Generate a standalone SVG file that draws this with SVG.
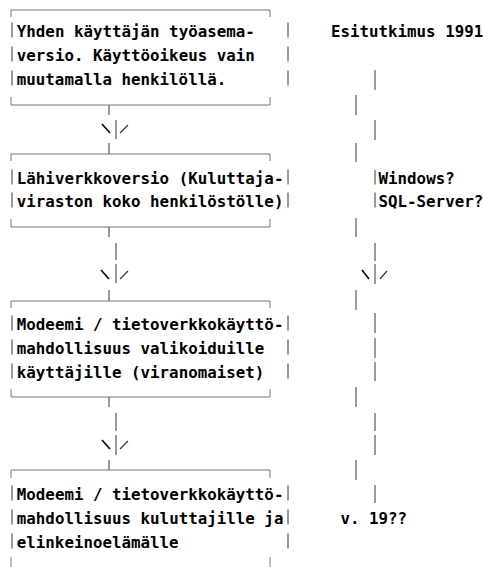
<svg xmlns="http://www.w3.org/2000/svg" width="484" height="567" viewBox="0 0 484 567">
<style>
text{font-family:"DejaVu Sans Mono","Liberation Mono",monospace;font-weight:bold;font-size:15.8px;fill:#000}
.b{stroke:#666;stroke-width:1.3;fill:none}
.bd{stroke:#777;stroke-width:1;fill:none}
.ar{stroke:#111;stroke-width:1.8;fill:none}
.ar2{stroke:#333;stroke-width:1.2;fill:none}
</style>
<rect width="484" height="567" fill="#fff"/>
<g id="box1">
<path class="bd" d="M11 17V10H270V17M11 97V105H270V97"/>
<path class="b" d="M12 22.5V37.5M12 46.5V61.5M12 70.5V85.5M288 22.5V37.5M288 46.5V61.5M288 70.5V85.5"/>
<text x="16.8" y="36.5" textLength="238" lengthAdjust="spacing">Yhden käyttäjän työasema-</text>
<text x="16.8" y="60.5" textLength="238" lengthAdjust="spacing">versio. Käyttöoikeus vain</text>
<text x="16.8" y="84.5" textLength="209.4" lengthAdjust="spacing">muutamalla henkilöllä.</text>
</g>
<g id="box2">
<path class="bd" d="M11 161V154H270V161M11 219V227H270V219"/>
<path class="b" d="M12 169.5V184.5M12 192.5V207.5M288 169.5V184.5M288 192.5V207.5"/>
<text x="16.8" y="183.5" textLength="266.6" lengthAdjust="spacing">Lähiverkkoversio (Kuluttaja-</text>
<text x="16.8" y="206.5" textLength="266.6" lengthAdjust="spacing">viraston koko henkilöstölle)</text>
</g>
<g id="box3">
<path class="bd" d="M11 308V301H270V308M11 389V397H270V389"/>
<path class="b" d="M12 315.5V330.5M12 339.5V354.5M12 363.5V378.5M288 315.5V330.5M288 339.5V354.5M288 363.5V378.5"/>
<text x="16.8" y="329.5" textLength="266.6" lengthAdjust="spacing">Modeemi / tietoverkkokäyttö-</text>
<text x="16.8" y="353.5" textLength="247.5" lengthAdjust="spacing">mahdollisuus valikoiduille</text>
<text x="16.8" y="377.5" textLength="247.5" lengthAdjust="spacing">käyttäjille (viranomaiset)</text>
</g>
<g id="box4">
<path class="bd" d="M11 478V470H270V478M11 557V570M270 557V570"/>
<path class="b" d="M12 485.5V500.5M12 509.5V524.5M12 533.5V548.5M288 485.5V500.5M288 509.5V524.5M288 533.5V548.5"/>
<text x="16.8" y="499.5" textLength="266.6" lengthAdjust="spacing">Modeemi / tietoverkkokäyttö-</text>
<text x="16.8" y="523.5" textLength="266.6" lengthAdjust="spacing">mahdollisuus kuluttajille ja</text>
<text x="16.8" y="547.5" textLength="161.8" lengthAdjust="spacing">elinkeinoelämälle</text>
</g>
<g id="esitutkimus">
<text x="330.9" y="36.5" textLength="152.3" lengthAdjust="spacing">Esitutkimus 1991</text>
</g>
<g id="windows">
<path class="b" d="M375 170V184.5M375 192.5V207.5"/>
<text x="378.5" y="183.5" textLength="76.2" lengthAdjust="spacing">Windows?</text>
<text x="378.5" y="206.5" textLength="104.7" lengthAdjust="spacing">SQL-Server?</text>
</g>
<g id="v19">
<text x="340.4" y="523.5" textLength="66.6" lengthAdjust="spacing">v. 19??</text>
</g>
<g id="connectors">
<path class="b" d="M109 105V115M109 143V154M109 227V237M109 290V301M109 397V407M109 460V470"/>
<path class="b" d="M116 120V139M116 243V260M116 264V283M116 413V431M116 435V455"/>
<path class="ar" d="M102 124L110 133M101 270L109 279M102 440L110 449"/>
<path class="ar2" d="M120 133L128 125M120 279L128 271M120 449L128 441"/>
<path class="b" d="M375 70V90M356 95V115M375 120V140M356 143V162M356 218V237M375 243V261M375 264V284M356 290V310M375 313V333M375 338V358M375 362V381M356 387V407M375 413V431M375 435V455M356 460V480M375 485V503"/>
<path class="ar" d="M362 270L369 279"/>
<path class="ar2" d="M380 279L387 271"/>
</g>
</svg>
